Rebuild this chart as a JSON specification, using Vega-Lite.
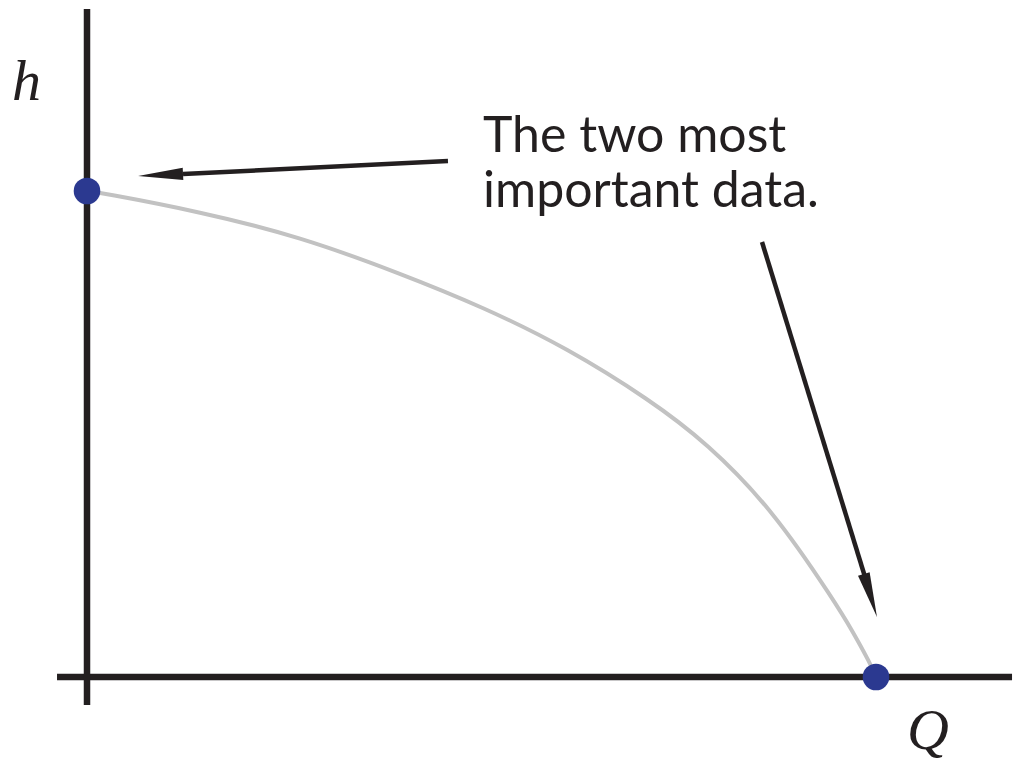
{
  "$schema": "https://vega.github.io/schema/vega-lite/v6.json",
  "width": 1014,
  "height": 763,
  "autosize": "none",
  "padding": 0,
  "background": "white",
  "config": {"view": {"stroke": null}},
  "datasets": {
    "axes": [
      {"Q": -0.038, "h": 0, "Q2": 1.1724, "h2": 0},
      {"Q": 0, "h": 1.3745, "Q2": 0, "h2": -0.0576}
    ],
    "curve": [
      {"Q": 0, "h": 1},
      {"Q": 0.0165, "h": 0.9965},
      {"Q": 0.1432, "h": 0.9574},
      {"Q": 0.27, "h": 0.906},
      {"Q": 0.3967, "h": 0.8307},
      {"Q": 0.5019, "h": 0.7613},
      {"Q": 0.6084, "h": 0.677},
      {"Q": 0.7136, "h": 0.57},
      {"Q": 0.7858, "h": 0.4815},
      {"Q": 0.8695, "h": 0.3436},
      {"Q": 0.948, "h": 0.1543},
      {"Q": 0.9709, "h": 0.0926},
      {"Q": 0.9924, "h": 0.0288},
      {"Q": 1, "h": 0}
    ],
    "points": [
      {"Q": 0, "h": 1},
      {"Q": 1, "h": 0}
    ],
    "shafts": [
      {"Q": 0.4575, "h": 1.0617, "Q2": 0.1217, "h2": 1.035},
      {"Q": 0.8555, "h": 0.8951, "Q2": 0.9861, "h2": 0.2058}
    ],
    "head1": [{"Q": 0.0932, "h": 1.0331}],
    "head2": [{"Q": 0.9929, "h": 0.1677}],
    "note": [
      {"Q": 0.5019, "h": 1.0802, "label": "The two most"},
      {"Q": 0.5019, "h": 0.9671, "label": "important data."}
    ],
    "vars": [
      {"Q": -0.0951, "h": 1.1872, "label": "h"},
      {"Q": 1.0393, "h": -0.1481, "label": "Q"}
    ]
  },
  "layer": [
    {
      "data": {"name": "curve"},
      "mark": {"type": "line", "color": "#c2c2c2", "strokeWidth": 4, "interpolate": "basis"},
      "encoding": {
        "x": {"field": "Q", "type": "quantitative", "scale": {"domain": [-0.11027, 1.1749], "nice": false, "zero": false}, "axis": null},
        "y": {"field": "h", "type": "quantitative", "scale": {"domain": [-0.17695, 1.393], "nice": false, "zero": false}, "axis": null}
      }
    },
    {
      "data": {"name": "axes"},
      "mark": {"type": "rule", "color": "#231f20", "strokeWidth": 6.5, "strokeCap": "butt"},
      "encoding": {
        "x": {"field": "Q", "type": "quantitative"},
        "y": {"field": "h", "type": "quantitative"},
        "x2": {"field": "Q2"},
        "y2": {"field": "h2"}
      }
    },
    {
      "data": {"name": "shafts"},
      "mark": {"type": "rule", "color": "#231f20", "strokeWidth": 4.5, "strokeCap": "butt"},
      "encoding": {
        "x": {"field": "Q", "type": "quantitative"},
        "y": {"field": "h", "type": "quantitative"},
        "x2": {"field": "Q2"},
        "y2": {"field": "h2"}
      }
    },
    {
      "data": {"name": "head1"},
      "mark": {"type": "point", "shape": "M0,-1L0.27,1L-0.27,1Z", "filled": true, "color": "#231f20", "opacity": 1, "size": 2025, "angle": 267.2},
      "encoding": {
        "x": {"field": "Q", "type": "quantitative"},
        "y": {"field": "h", "type": "quantitative"}
      }
    },
    {
      "data": {"name": "head2"},
      "mark": {"type": "point", "shape": "M0,-1L0.27,1L-0.27,1Z", "filled": true, "color": "#231f20", "opacity": 1, "size": 2025, "angle": 163},
      "encoding": {
        "x": {"field": "Q", "type": "quantitative"},
        "y": {"field": "h", "type": "quantitative"}
      }
    },
    {
      "data": {"name": "points"},
      "mark": {"type": "circle", "color": "#2b3990", "opacity": 1, "size": 707},
      "encoding": {
        "x": {"field": "Q", "type": "quantitative"},
        "y": {"field": "h", "type": "quantitative"}
      }
    },
    {
      "data": {"name": "note"},
      "mark": {"type": "text", "align": "left", "baseline": "alphabetic", "font": "Lato", "fontSize": 50, "color": "#231f20"},
      "encoding": {
        "x": {"field": "Q", "type": "quantitative"},
        "y": {"field": "h", "type": "quantitative"},
        "text": {"field": "label"}
      }
    },
    {
      "data": {"name": "vars"},
      "mark": {"type": "text", "align": "left", "baseline": "alphabetic", "font": "Liberation Serif", "fontStyle": "italic", "fontSize": 58, "color": "#231f20"},
      "encoding": {
        "x": {"field": "Q", "type": "quantitative"},
        "y": {"field": "h", "type": "quantitative"},
        "text": {"field": "label"}
      }
    }
  ]
}
